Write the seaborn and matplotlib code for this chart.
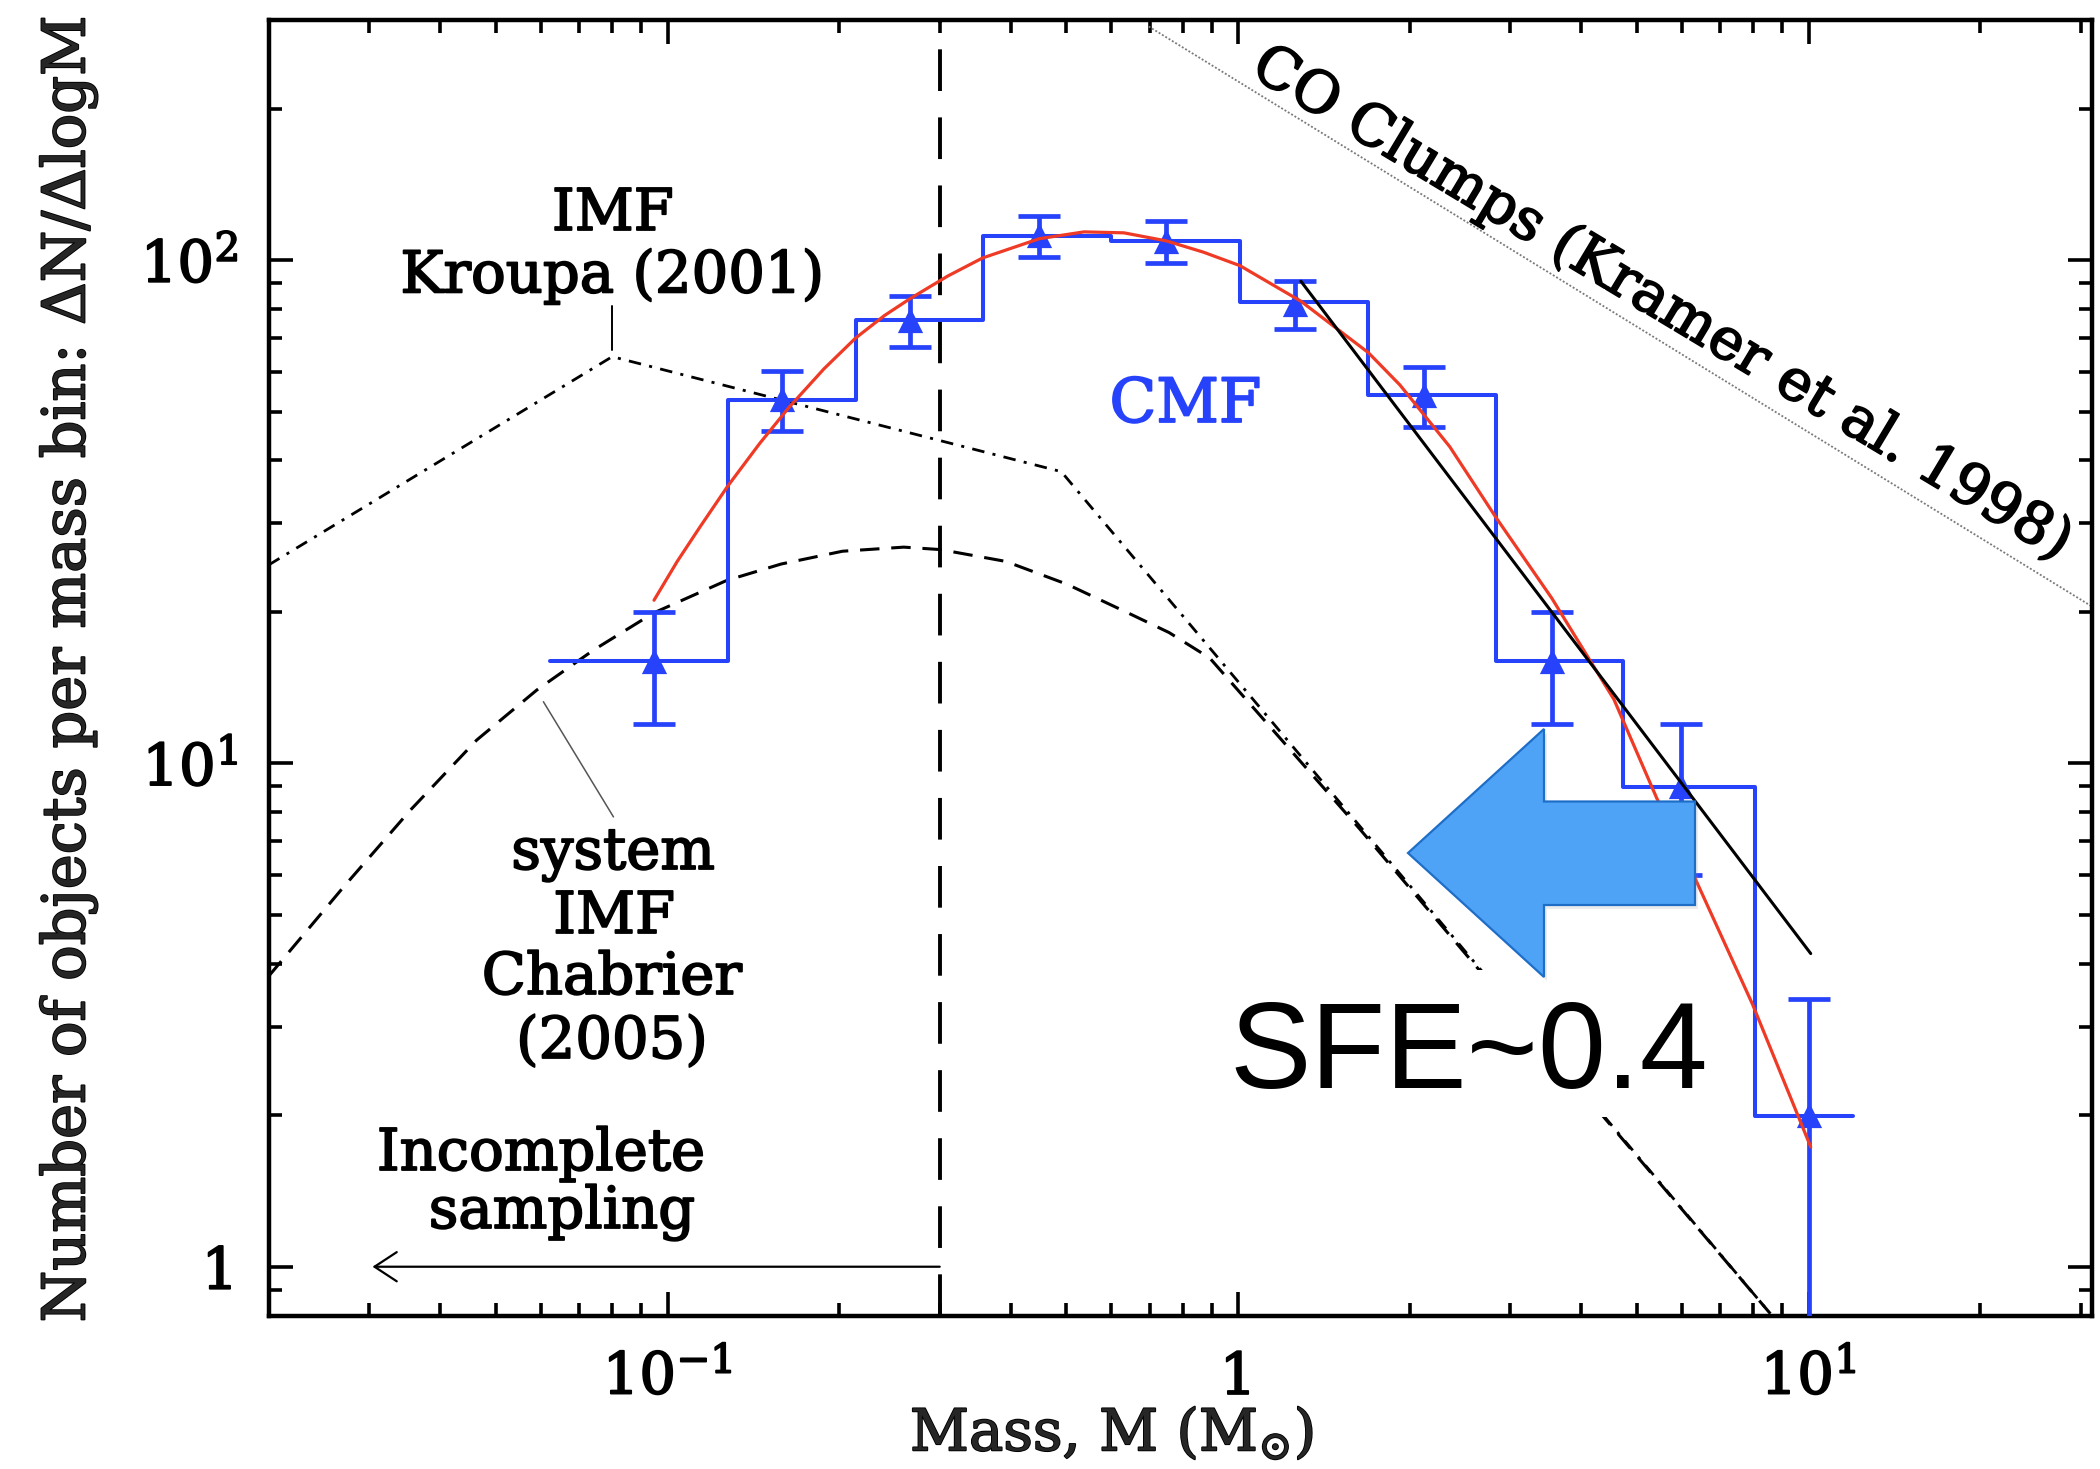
import matplotlib
matplotlib.use("Agg")
import matplotlib.pyplot as plt
import matplotlib.patheffects as pe
import seaborn as sns
from matplotlib.patches import Polygon, Rectangle
from matplotlib.ticker import NullFormatter

# ---------------- data ----------------
# CMF histogram (blue steps): bin edges and heights
hist_edges = [0.0622, 0.1279, 0.2136, 0.3567, 0.598, 1.009, 1.692, 2.832, 4.73, 8.05, 11.96]
hist_counts = [16.0, 52.7, 75.9, 111.5, 109.3, 82.4, 54.0, 16.0, 8.96, 1.99]

# CMF points (triangles) with error bars
cmf_mass = [0.0947, 0.159, 0.266, 0.447, 0.749, 1.259, 2.12, 3.55, 5.97, 10.0]
cmf_value = [16.0, 53.0, 76.0, 112.0, 109.0, 82.0, 54.0, 16.0, 9.0, 2.0]
cmf_err = [4.0, 7.3, 8.7, 10.6, 10.4, 9.1, 7.3, 4.0, 3.0, 1.41]

# log-normal fit (red curve)
fit_mass = [0.0947, 0.104, 0.114, 0.1276, 0.145, 0.1633, 0.188, 0.2136, 0.24, 0.266, 0.31,
            0.3567, 0.4485, 0.537, 0.631, 0.749, 0.87, 1.008, 1.288, 1.692, 1.922, 2.35,
            2.833, 3.548, 4.56, 5.42, 6.31, 7.98, 10.09]
fit_value = [21.1, 25.2, 29.5, 35.6, 43.2, 51.0, 60.8, 70.0, 77.6, 83.8, 93.0,
             101.0, 110.3, 113.8, 113.3, 109.2, 103.7, 97.5, 82.9, 65.5, 56.5, 42.6,
             30.8, 21.3, 13.4, 8.53, 5.95, 3.32, 1.73]

# power-law fit (black solid)
pl_mass = [1.289, 10.09]
pl_value = [90.8, 4.19]

# Kroupa (2001) IMF (dash-dot)
kroupa_mass = [0.02, 0.08, 0.49, 8.57]
kroupa_value = [24.8, 64.3, 38.0, 0.807]

# Chabrier (2005) system IMF (dashed)
chab_mass = [0.02, 0.02704, 0.0354, 0.0463, 0.059, 0.0742, 0.0945, 0.127, 0.1582, 0.2026,
             0.2595, 0.301, 0.3917, 0.5015, 0.642, 0.757, 0.892, 1.636, 8.57]
chab_value = [3.78, 5.68, 8.07, 11.13, 13.99, 16.8, 19.9, 23.1, 24.9, 26.4,
              26.9, 26.6, 25.2, 22.7, 19.9, 18.2, 16.2, 7.40, 0.807]

# CO clumps (Kramer et al. 1998) dotted
co_mass = [0.6975, 31.4]
co_value = [291.2, 20.5]

# completeness limit and leader lines
mass_limit = 0.3
incomplete_arrow_mass = [0.3, 0.0304]
incomplete_arrow_value = [1.0, 1.0]
kroupa_leader_mass = [0.08, 0.08]
kroupa_leader_value = [80.9, 66.3]
chab_leader_mass = [0.0606, 0.0804]
chab_leader_value = [13.26, 7.83]

x_ticks = [0.1, 1, 10]
x_ticklabels = [r"$10^{-1}$", "1", r"$10^{1}$"]
y_ticks = [1, 10, 100]
y_ticklabels = ["1", r"$10^{1}$", r"$10^{2}$"]

# ---------------- style ----------------
sns.set_theme(style="ticks")
plt.rcParams.update({
    "font.family": ["DejaVu Serif"],
    "mathtext.fontset": "dejavuserif",
    "lines.scale_dashes": False,
    "axes.linewidth": 3.2,
    "axes.edgecolor": "black",
    "xtick.color": "black",
    "ytick.color": "black",
})

BLUE = "#2742fb"
RED = "#ef3a26"
W, H = 2100, 1469
FS = 41.5
BOLDEN = [pe.withStroke(linewidth=1.3, foreground="black")]
BOLDEN_BLUE = [pe.withStroke(linewidth=1.3, foreground=BLUE)]

fig = plt.figure(figsize=(W / 100, H / 100), dpi=100)
fig.patch.set_facecolor("white")
ax = fig.add_axes([268.75 / W, 1 - 1315.5 / H, (2092 - 268.75) / W, (1315.5 - 20) / H])
ax.set_facecolor("white")
ax.set_xscale("log")
ax.set_yscale("log")
ax.set_xlim(0.02, 31.4)
ax.set_ylim(0.8, 300)

# ---------------- curves ----------------
sns.lineplot(x=co_mass, y=co_value, ax=ax, color="#7a7a7a", lw=1.3,
             linestyle=(0, (1.4, 1.4)), estimator=None, sort=False, zorder=2)
sns.lineplot(x=kroupa_mass, y=kroupa_value, ax=ax, color="black", lw=2.0,
             linestyle=(0, (9, 6, 2.2, 6)), estimator=None, sort=False, zorder=2)
sns.lineplot(x=chab_mass, y=chab_value, ax=ax, color="black", lw=2.2,
             linestyle=(0, (14, 8.5)), estimator=None, sort=False, zorder=2)
ax.axvline(mass_limit, color="black", lw=2.8, linestyle=(0, (30, 19)), zorder=2)

sns.lineplot(x=kroupa_leader_mass, y=kroupa_leader_value, ax=ax, color="black", lw=1.4,
             estimator=None, sort=False, zorder=2)
sns.lineplot(x=chab_leader_mass, y=chab_leader_value, ax=ax, color="#555555", lw=1.1,
             estimator=None, sort=False, zorder=2)

ax.annotate("", xy=(incomplete_arrow_mass[1], incomplete_arrow_value[1]),
            xytext=(incomplete_arrow_mass[0], incomplete_arrow_value[0]),
            arrowprops=dict(arrowstyle="->,head_length=16,head_width=10.5", mutation_scale=1,
                            lw=1.6, color="black", shrinkA=0, shrinkB=0))

# CMF histogram
sns.lineplot(x=hist_edges, y=hist_counts + [hist_counts[-1]], ax=ax, color=BLUE, lw=2.9,
             drawstyle="steps-post", estimator=None, sort=False, zorder=3)
# error bars + triangles
ax.errorbar(cmf_mass, cmf_value, yerr=cmf_err, fmt="none", ecolor=BLUE, elinewidth=3.4,
            capsize=15, capthick=3.4, zorder=4)
sns.scatterplot(x=cmf_mass, y=cmf_value, ax=ax, marker="^", s=330, color=BLUE,
                edgecolor=BLUE, linewidth=0, zorder=5, legend=False)

# fits
sns.lineplot(x=fit_mass, y=fit_value, ax=ax, color=RED, lw=2.3,
             estimator=None, sort=False, zorder=6)
sns.lineplot(x=pl_mass, y=pl_value, ax=ax, color="black", lw=2.2,
             estimator=None, sort=False, zorder=6)

# ---------------- axes decoration ----------------
ax.set_xticks(x_ticks)
ax.set_xticklabels(x_ticklabels)
ax.set_yticks(y_ticks)
ax.set_yticklabels(y_ticklabels)
ax.xaxis.set_minor_formatter(NullFormatter())
ax.yaxis.set_minor_formatter(NullFormatter())
ax.tick_params(which="both", direction="in", top=True, right=True, width=2.6, color="black")
ax.tick_params(which="major", length=17, labelsize=FS)
ax.tick_params(which="minor", length=9.4)
ax.tick_params(axis="x", which="major", pad=56.5)
ax.tick_params(axis="y", which="major", pad=22)
for lab in ax.get_xticklabels():
    lab.set_verticalalignment("baseline")
for lab in ax.get_xticklabels() + ax.get_yticklabels():
    lab.set_path_effects(BOLDEN)
for s in ax.spines.values():
    s.set_linewidth(3.2)
    s.set_color("black")
    s.set_visible(True)

ax.set_xlabel(r"Mass, M (M$_{\odot}$)", fontsize=FS)
ax.xaxis.set_label_coords(0.4624, -0.1041)
ax.xaxis.label.set_verticalalignment("baseline")
ax.xaxis.label.set_path_effects(BOLDEN)
ax.set_ylabel(r"Number of objects per mass bin: $\Delta$N/$\Delta$logM", fontsize=42.5)
ax.yaxis.set_label_coords(-0.1101, 0.4985)
ax.yaxis.label.set_verticalalignment("center")
ax.yaxis.label.set_path_effects(BOLDEN)


# ---------------- annotations (figure pixel positions) ----------------
def fxp(x):
    return x / W


def fyp(y):
    return 1 - y / H


tk = dict(fontsize=FS, color="black", ha="center", va="baseline", path_effects=BOLDEN)
fig.text(fxp(612.7), fyp(230), "IMF", **tk)
fig.text(fxp(612.3), fyp(292.4), "Kroupa (2001)", **tk)
fig.text(fxp(613.3), fyp(869), "system", **tk)
fig.text(fxp(614.0), fyp(933), "IMF", **tk)
fig.text(fxp(612.0), fyp(994), "Chabrier", **tk)
fig.text(fxp(612.0), fyp(1058), "(2005)", **tk)
fig.text(fxp(541.0), fyp(1170), "Incomplete", **tk)
fig.text(fxp(562.0), fyp(1228), "sampling", **tk)
fig.text(fxp(1185.5), fyp(422), "CMF", fontsize=44, color=BLUE, ha="center", va="baseline",
         path_effects=BOLDEN_BLUE)
fig.text(fxp(1662), fyp(304), "CO Clumps (Kramer et al. 1998)", fontsize=FS, color="black",
         rotation=-31, rotation_mode="anchor", ha="center", va="center", path_effects=BOLDEN)

# white box behind the SFE label
fig.add_artist(Rectangle((fxp(1215), fyp(1117)), (1720 - 1215) / W, (1117 - 970) / H,
                         transform=fig.transFigure, facecolor="white", edgecolor="none",
                         zorder=1))
# big blue block arrow pointing left
arrow_px = [(1408, 853), (1544, 729), (1544, 801.5), (1695, 801.5),
            (1695, 905), (1544, 905), (1544, 977)]
shadow = [(fxp(x + 3), fyp(y + 4)) for x, y in arrow_px]
fig.add_artist(Polygon(shadow, closed=True, transform=fig.transFigure,
                       facecolor="#999999", edgecolor="none", alpha=0.18, zorder=1.9))
fig.add_artist(Polygon([(fxp(x), fyp(y)) for x, y in arrow_px], closed=True,
                       transform=fig.transFigure, facecolor="#4fa3f7", edgecolor="#1e6ec8",
                       lw=1.6, zorder=2))
fig.text(fxp(1229), fyp(1088.3), "SFE~0.4", fontsize=88, color="black",
         family=["Liberation Sans", "DejaVu Sans"], ha="left", va="baseline", zorder=3)

fig.savefig("out.png", dpi=100, facecolor="white")
